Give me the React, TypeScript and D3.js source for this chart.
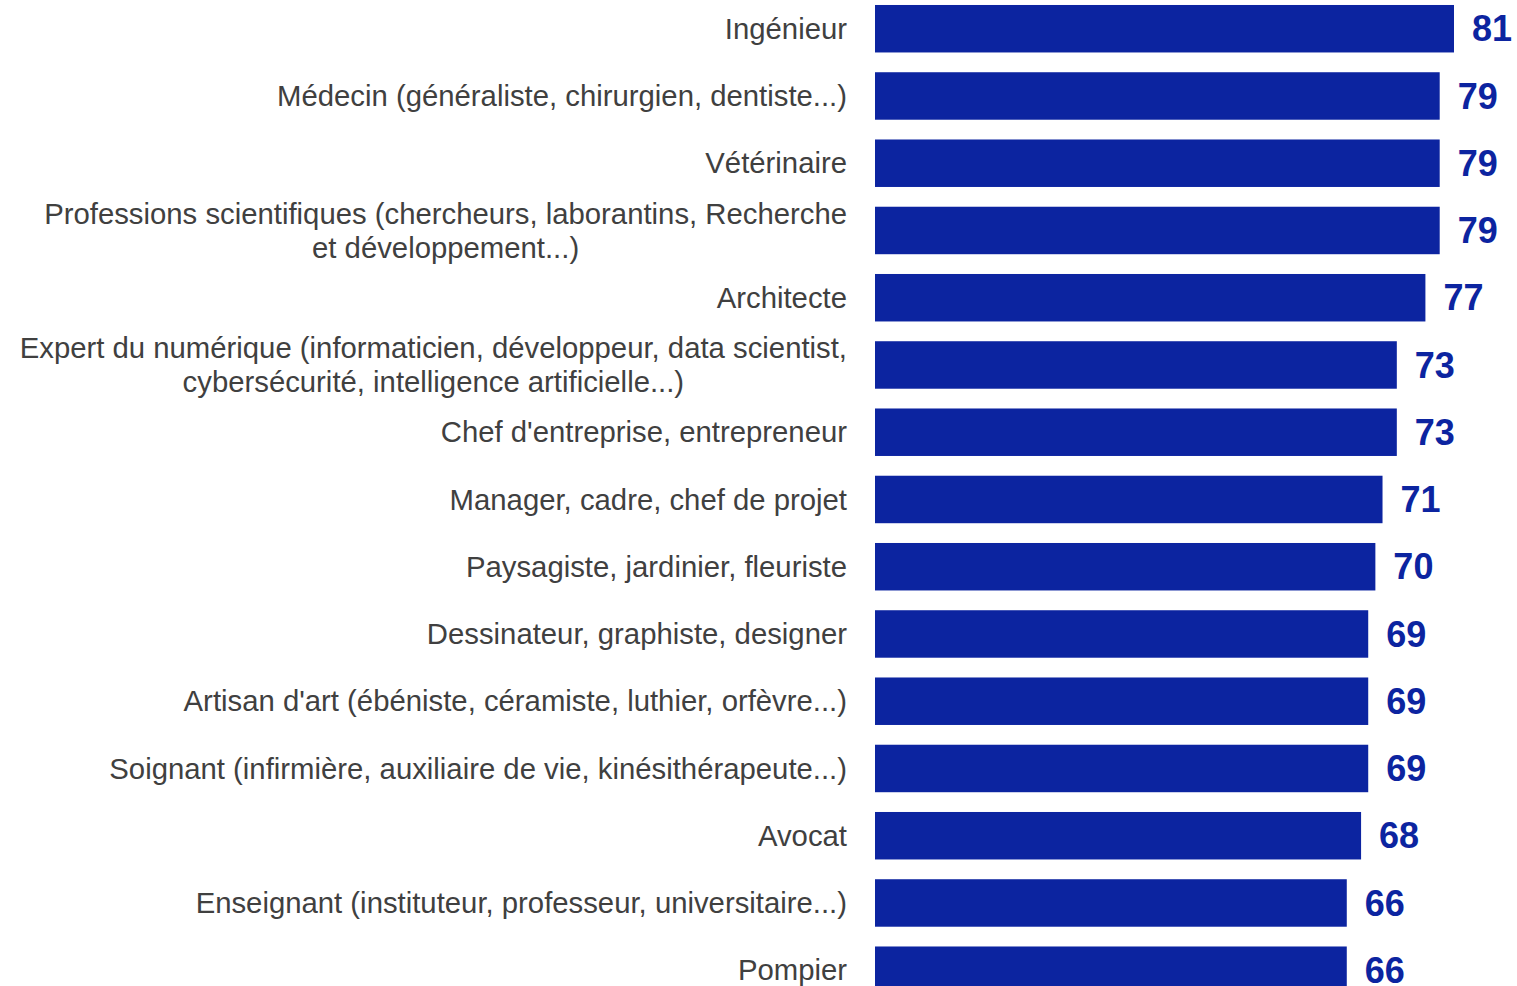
import React from "react";
import * as d3 from "d3";

const categories: string[][] = [
  ["Ingénieur"],
  ["Médecin (généraliste, chirurgien, dentiste...)"],
  ["Vétérinaire"],
  ["Professions scientifiques (chercheurs, laborantins, Recherche", "et développement...)"],
  ["Architecte"],
  ["Expert du numérique (informaticien, développeur, data scientist,", "cybersécurité, intelligence artificielle...)"],
  ["Chef d'entreprise, entrepreneur"],
  ["Manager, cadre, chef de projet"],
  ["Paysagiste, jardinier, fleuriste"],
  ["Dessinateur, graphiste, designer"],
  ["Artisan d'art (ébéniste, céramiste, luthier, orfèvre...)"],
  ["Soignant (infirmière, auxiliaire de vie, kinésithérapeute...)"],
  ["Avocat"],
  ["Enseignant (instituteur, professeur, universitaire...)"],
  ["Pompier"],
];
const values: number[] = [81, 79, 79, 79, 77, 73, 73, 71, 70, 69, 69, 69, 68, 66, 66];

const W = 1517;
const H = 986;
const BAR = "#0c24a0";
const LABEL_FONT = "'Liberation Sans', Arial, sans-serif";
const LABEL_SIZE = 29.3;

let ctx: CanvasRenderingContext2D | null = null;
function measure(t: string): number {
  if (!ctx) ctx = document.createElement("canvas").getContext("2d");
  if (!ctx) return t.length * 13;
  ctx.font = `${LABEL_SIZE}px ${LABEL_FONT}`;
  return ctx.measureText(t).width;
}

export default function App() {
  const keys = categories.map((c, i) => String(i));
  const pitch = 67.25;
  const y = d3
    .scaleBand<string>()
    .domain(keys)
    .range([-4.9, -4.9 + pitch * keys.length])
    .paddingInner(0.294)
    .paddingOuter(0.147);
  const x = d3.scaleLinear().domain([0, 81]).range([875, 1454]);
  const labelRight = 847;
  const lineH = 34;

  return (
    <svg
      width={W}
      height={H}
      style={{ position: "absolute", left: 0, top: 0, background: "#fff" }}
    >
      {keys.map((k, i) => {
        const top = y(k)!;
        const cy = top + y.bandwidth() / 2;
        const lines = categories[i];
        const maxW = Math.max(...lines.map(measure));
        const cx = labelRight - maxW / 2;
        return (
          <g key={k}>
            <rect x={x(0)} y={top} width={x(values[i]) - x(0)} height={y.bandwidth()} fill={BAR} />
            {lines.map((ln, j) => (
              <text
                key={j}
                x={lines.length > 1 ? cx : labelRight}
                y={cy + (j - (lines.length - 1) / 2) * lineH}
                dy="0.35em"
                textAnchor={lines.length > 1 ? "middle" : "end"}
                fontFamily={LABEL_FONT}
                fontSize={LABEL_SIZE}
                fill="#404040"
              >
                {ln}
              </text>
            ))}
            <text
              x={x(values[i]) + 18}
              y={cy}
              dy="0.35em"
              fontFamily={LABEL_FONT}
              fontSize={36}
              fontWeight="bold"
              fill={BAR}
            >
              {values[i]}
            </text>
          </g>
        );
      })}
    </svg>
  );
}
